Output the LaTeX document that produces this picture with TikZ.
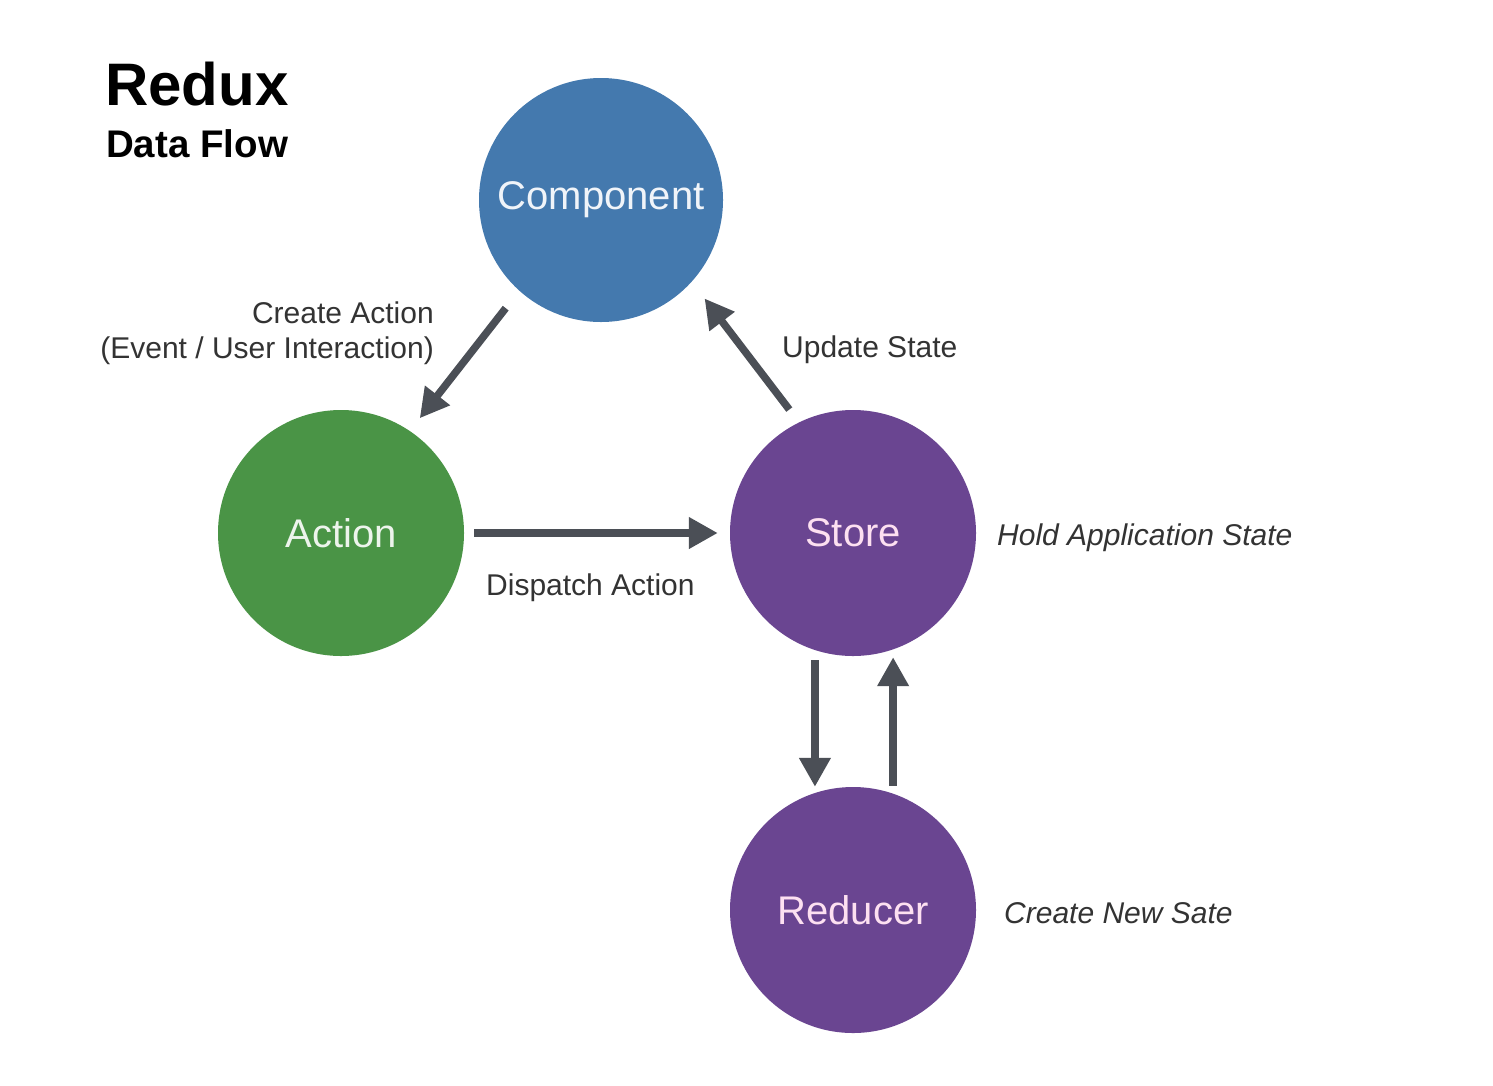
\documentclass[tikz,border=0pt]{standalone}
\usepackage{fontspec}
\setmainfont{Liberation Sans}
\usetikzlibrary{arrows.meta}
\definecolor{compblue}{HTML}{4479AE}
\definecolor{actgreen}{HTML}{4A9446}
\definecolor{storepurple}{HTML}{6A4591}
\definecolor{arrowgray}{HTML}{4B4F56}
\definecolor{labelgray}{HTML}{333333}
\tikzset{
  stage/.style={circle, minimum size=#1, inner sep=0pt, draw=none, font=\fontsize{40}{48}\selectfont},
  flow/.style={draw=arrowgray, line width=7.5pt, -{Triangle[width=30pt,length=29pt]}},
  lbl/.style={inner sep=0pt, text=labelgray, font=\fontsize{30}{36}\selectfont},
  ilbl/.style={lbl, font=\fontsize{30}{36}\selectfont\itshape},
}
\begin{document}
\begin{tikzpicture}[x=1pt,y=-1pt]
\useasboundingbox (0,0) rectangle (1493,1085);
\fill[white] (0,0) rectangle (1493,1085);
% title
\node[anchor=base west, inner sep=0pt, font=\fontsize{60}{70}\selectfont\bfseries] (t1) at (105,105) {Redux};
\node[anchor=base west, inner sep=0pt, font=\fontsize{38.5}{44}\selectfont\bfseries] (t2) at (106,157) {Data Flow};
% stages
\node[stage=244pt, fill=compblue, text=white!92!compblue] (comp) at (601,200) {\raisebox{-4pt}{Component}};
\node[stage=246pt, fill=actgreen, text=white!90!actgreen] (act) at (341,533) {Action};
\node[stage=246pt, fill=storepurple, text=white!88!magenta] (store) at (853,533) {Store};
\node[stage=246pt, fill=storepurple, text=white!88!magenta] (red) at (853,910) {Reducer};
% connectors
\draw[flow, shorten <=22pt, shorten >=16pt] (comp.228) -- (act.56);
\draw[flow, shorten <=10pt, shorten >=12pt] (act.east) -- (store.west);
\draw[flow, shorten <=16pt, shorten >=21pt] (store.116) -- (comp.318);
\draw[flow, shorten <=10pt, shorten >=0pt] (store.252.5) -- (store.252.5 |- red.north);
\draw[flow, shorten <=8pt, shorten >=1pt] (red.71.5) -- (red.71.5 |- store.south);
% labels
\node[lbl, anchor=base east] (l1) at (434,323) {Create Action};
\node[lbl, anchor=base east] (l2) at (434,358) {(Event / User Interaction)};
\node[lbl, anchor=base west] (l3) at (782,357) {Update State};
\node[lbl, anchor=base west] (l4) at (486,595) {Dispatch Action};
\node[ilbl, anchor=base west] (l5) at (997,545) {Hold Application State};
\node[ilbl, anchor=base west] (l6) at (1004,923) {Create New Sate};
\end{tikzpicture}
\end{document}
